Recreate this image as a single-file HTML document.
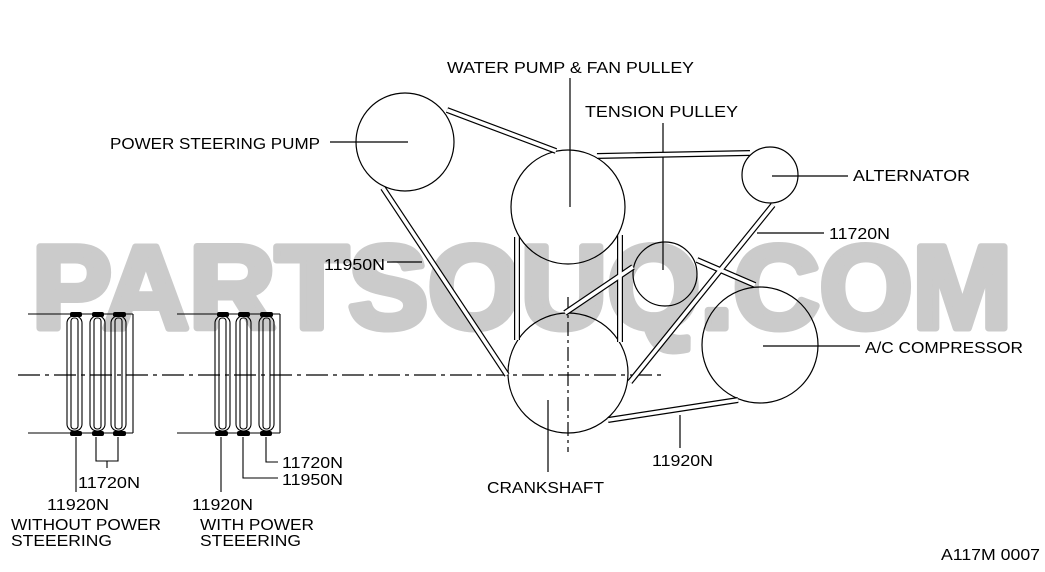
<!DOCTYPE html>
<html><head><meta charset="utf-8"><style>
html,body{margin:0;padding:0;background:#fff}
svg{display:block}
text{font-family:"Liberation Sans",sans-serif;font-size:16px;fill:#000}
</style></head><body>
<svg width="1045" height="572" viewBox="0 0 1045 572" xmlns="http://www.w3.org/2000/svg">
<text x="32" y="328" style="font-size:118px;font-weight:bold;fill:#cbcbcb;stroke:#cbcbcb;stroke-width:7;stroke-linejoin:round" textLength="980" lengthAdjust="spacingAndGlyphs">PARTSOUQ.COM</text>
<g fill="none" stroke="#000" stroke-width="1.2">
<circle cx="405" cy="142" r="49"/>
<circle cx="568" cy="207" r="57"/>
<circle cx="770" cy="175" r="28"/>
<circle cx="665" cy="274" r="32"/>
<circle cx="760" cy="345" r="58"/>
<circle cx="568" cy="373" r="60"/>
<line x1="18" y1="375" x2="663" y2="375" stroke-dasharray="22,5,4,5"/>
<line x1="568" y1="297" x2="568" y2="452" stroke-dasharray="14,4,3,4"/>
<line x1="570" y1="78" x2="570" y2="207"/>
<line x1="663" y1="123" x2="663" y2="270"/>
<line x1="330" y1="142" x2="408" y2="142"/>
<line x1="772" y1="176" x2="848" y2="176"/>
<line x1="757" y1="233" x2="824" y2="233"/>
<line x1="387" y1="262" x2="422" y2="262"/>
<line x1="763" y1="346" x2="860" y2="346"/>
<line x1="680" y1="415" x2="680" y2="448"/>
<line x1="548" y1="400" x2="548" y2="472"/>
</g>
<g stroke-linecap="butt">
<g stroke="#000" stroke-width="6">
<line x1="447" y1="110" x2="556" y2="151"/>
<line x1="597" y1="156" x2="750" y2="153"/>
<line x1="383" y1="188" x2="507" y2="375"/>
<line x1="517" y1="237" x2="517" y2="340"/>
<line x1="620" y1="235" x2="620" y2="342"/>
<line x1="773" y1="205" x2="630" y2="382"/>
<line x1="565" y1="313" x2="633" y2="267"/>
<line x1="697" y1="260" x2="755" y2="285"/>
<line x1="608" y1="420" x2="738" y2="400"/>
</g>
<g stroke="#fff" stroke-width="3.6">
<line x1="447" y1="110" x2="556" y2="151"/>
<line x1="597" y1="156" x2="750" y2="153"/>
<line x1="383" y1="188" x2="507" y2="375"/>
<line x1="517" y1="237" x2="517" y2="340"/>
<line x1="620" y1="235" x2="620" y2="342"/>
<line x1="773" y1="205" x2="630" y2="382"/>
<line x1="565" y1="313" x2="633" y2="267"/>
<line x1="697" y1="260" x2="755" y2="285"/>
<line x1="608" y1="420" x2="738" y2="400"/>
</g>
</g>
<g fill="none" stroke="#000" stroke-width="1.1">
<line x1="28" y1="314" x2="133" y2="314"/><line x1="28" y1="433" x2="133" y2="433"/><line x1="133" y1="314" x2="133" y2="433"/>
<rect x="67" y="316" width="15" height="115" rx="7"/><rect x="71" y="318" width="7" height="111" rx="3"/>
<rect x="90" y="316" width="15" height="115" rx="7"/><rect x="94" y="318" width="7" height="111" rx="3"/>
<rect x="111" y="316" width="15" height="115" rx="7"/><rect x="115" y="318" width="7" height="111" rx="3"/>
<line x1="177" y1="314" x2="280" y2="314"/><line x1="177" y1="433" x2="280" y2="433"/><line x1="280" y1="314" x2="280" y2="433"/>
<rect x="215" y="316" width="15" height="115" rx="7"/><rect x="219" y="318" width="7" height="111" rx="3"/>
<rect x="236" y="316" width="15" height="115" rx="7"/><rect x="240" y="318" width="7" height="111" rx="3"/>
<rect x="259" y="316" width="15" height="115" rx="7"/><rect x="263" y="318" width="7" height="111" rx="3"/>
<polyline points="96,437 96,461 118,461 118,437"/><line x1="107" y1="461" x2="107" y2="468"/>
<line x1="76" y1="437" x2="76" y2="492"/>
<polyline points="266,437 266,462 278,462"/>
<polyline points="243,437 243,478 278,478"/>
<line x1="221" y1="437" x2="221" y2="492"/>
</g>
<g fill="#000">
<rect x="70" y="312" width="12" height="5" rx="2"/><rect x="92" y="312" width="12" height="5" rx="2"/><rect x="113" y="312" width="13" height="5" rx="2"/>
<rect x="70" y="431" width="12" height="5" rx="2"/><rect x="92" y="431" width="12" height="5" rx="2"/><rect x="113" y="431" width="13" height="5" rx="2"/>
<rect x="217" y="312" width="12" height="5" rx="2"/><rect x="238" y="312" width="12" height="5" rx="2"/><rect x="260" y="312" width="13" height="5" rx="2"/>
<rect x="215" y="431" width="13" height="5" rx="2"/><rect x="237" y="431" width="13" height="5" rx="2"/><rect x="260" y="431" width="12" height="5" rx="2"/>
</g>
<text x="447" y="73" textLength="247" lengthAdjust="spacingAndGlyphs">WATER PUMP &amp; FAN PULLEY</text>
<text x="585" y="117" textLength="153" lengthAdjust="spacingAndGlyphs">TENSION PULLEY</text>
<text x="110" y="149" textLength="210" lengthAdjust="spacingAndGlyphs">POWER STEERING PUMP</text>
<text x="853" y="181" textLength="117" lengthAdjust="spacingAndGlyphs">ALTERNATOR</text>
<text x="829" y="239" textLength="61" lengthAdjust="spacingAndGlyphs">11720N</text>
<text x="324" y="270" textLength="61" lengthAdjust="spacingAndGlyphs">11950N</text>
<text x="865" y="353" textLength="158" lengthAdjust="spacingAndGlyphs">A/C COMPRESSOR</text>
<text x="652" y="466" textLength="61" lengthAdjust="spacingAndGlyphs">11920N</text>
<text x="487" y="493" textLength="117" lengthAdjust="spacingAndGlyphs">CRANKSHAFT</text>
<text x="941" y="560" textLength="99" lengthAdjust="spacingAndGlyphs">A117M 0007</text>
<text x="78" y="488" textLength="62" lengthAdjust="spacingAndGlyphs">11720N</text>
<text x="47" y="510" textLength="62" lengthAdjust="spacingAndGlyphs">11920N</text>
<text x="11" y="530" textLength="150" lengthAdjust="spacingAndGlyphs">WITHOUT POWER</text>
<text x="11" y="546" textLength="101" lengthAdjust="spacingAndGlyphs">STEEERING</text>
<text x="282" y="468" textLength="61" lengthAdjust="spacingAndGlyphs">11720N</text>
<text x="282" y="485" textLength="61" lengthAdjust="spacingAndGlyphs">11950N</text>
<text x="192" y="510" textLength="61" lengthAdjust="spacingAndGlyphs">11920N</text>
<text x="200" y="530" textLength="114" lengthAdjust="spacingAndGlyphs">WITH POWER</text>
<text x="200" y="546" textLength="101" lengthAdjust="spacingAndGlyphs">STEEERING</text>
</svg>
</body></html>
